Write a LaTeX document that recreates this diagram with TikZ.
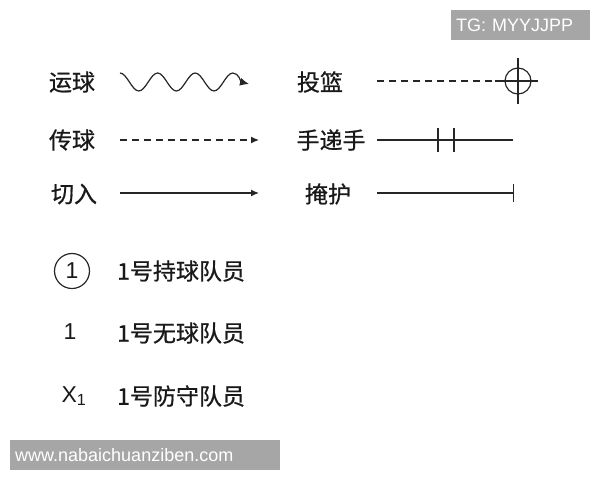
\documentclass[tikz,border=0pt]{standalone}
\usepackage{fontspec}
\setmainfont{Liberation Sans}
\newfontfamily\cjk[FakeBold=0.7]{Noto Sans CJK SC}
\usetikzlibrary{positioning,arrows.meta}
\tikzstyle{term}=[font=\cjk\fontsize{23}{25}\selectfont,inner sep=0pt,text=black!90]
\tikzstyle{sym}=[font=\fontsize{23}{25}\selectfont,inner sep=0pt,text=black!90]
\tikzstyle{stroke}=[line width=1.2pt,draw=black!85]
\tikzstyle{tag}=[fill=black!35,text=white,font=\fontsize{18}{20}\selectfont,
  inner xsep=5pt,inner ysep=0pt,minimum height=30pt,align=left,anchor=north west]
\newcommand{\newTerm}[3]{\node[term](#1) at (#3){#2};}
\newcommand{\newTick}[2]{\draw[stroke] ([yshift=#2]#1) -- ([yshift=-#2]#1);}

\begin{document}
\begin{tikzpicture}[x=1pt,y=-1pt,>=latex,
      tip/.style={-{Latex[length=8pt,width=7pt]}}
      ]
      \useasboundingbox (0,0) rectangle (600,480);
      % watermarks
      \node[tag,text width=129pt] (tg) at (451,10) {TG: MYYJJPP};
      \node[tag,text width=260pt] (site) at (10,440) {www.nabaichuanziben.com};
      % moves, left column
      \newTerm{dribble}{运球}{72,82}
      \newTerm{pass}{传球}{72,140}
      \newTerm{cut}{切入}{74,194}
      \coordinate (dribbleA) at (120,73);
      \coordinate (dribbleB) at (249,84);
      \coordinate (passA) at (120,140);
      \coordinate (passB) at (259,140);
      \coordinate (cutA) at (120,193);
      \coordinate (cutB) at (259,193);
      \draw[stroke,-{Latex[length=9pt,width=8pt]}] (dribbleA)
        \foreach \i in {1,2,3}{cos ++(9.4,9) sin ++(9.4,9) cos ++(9.4,-9) sin ++(9.4,-9)}
        .. controls +(6,0) and +(-8,-2) .. (dribbleB);
      \draw[stroke,dash pattern=on 7pt off 5pt,tip] (passA) -- (passB);
      \draw[stroke,tip] (cutA) -- (cutB);
      % moves, right column
      \newTerm{shot}{投篮}{320,82}
      \newTerm{handoff}{手递手}{331,140}
      \newTerm{screen}{掩护}{328,194}
      \coordinate (shotA) at (377,81);
      \node[circle,stroke,minimum size=26pt,inner sep=0pt] (hoop) at (518,81) {};
      \draw[stroke,dash pattern=on 7pt off 5pt] (shotA) -- ([xshift=-23pt]hoop.center);
      \draw[stroke] ([xshift=-23pt]hoop.center) -- ([xshift=20pt]hoop.center);
      \newTick{hoop.center}{23pt}
      \coordinate (handA) at (377,140);
      \coordinate (handB) at (513,140);
      \coordinate (handT1) at (438,140);
      \coordinate (handT2) at (454,140);
      \draw[stroke] (handA) -- (handB);
      \newTick{handT1}{12pt}
      \newTick{handT2}{12pt}
      \coordinate (screenA) at (377,193);
      \coordinate (screenB) at (514,193);
      \draw[stroke,-{Bar[width=18pt]}] (screenA) -- (screenB);
      % players
      \node[sym,circle,stroke,minimum size=35pt] (p1ball) at (72,271) {1};
      \node[sym] (p1) at (70,332) {1};
      \node[sym] (x1) at (74,396) {X\textsubscript{1}};
      \node[term,anchor=west] (p1ballText) at (117,271) {1号持球队员};
      \node[term,anchor=west] (p1Text) at (117,333) {1号无球队员};
      \node[term,anchor=west] (x1Text) at (117,396) {1号防守队员};
    \end{tikzpicture}
\end{document}
